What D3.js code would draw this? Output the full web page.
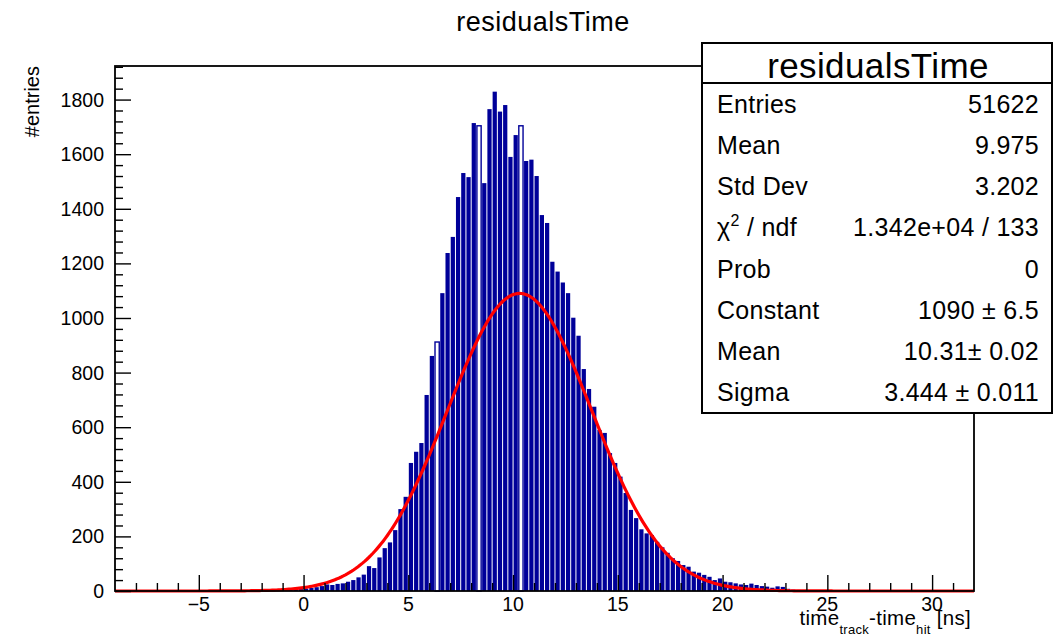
<!DOCTYPE html>
<html lang="en">
<head>
  <meta charset="UTF-8">
  <title>residualsTime</title>
  <script src="https://d3js.org/d3.v7.min.js"></script>
  <style>
    body { margin: 0; background: #fff; font-family: "Liberation Sans", Arial, sans-serif; }
    text { fill: #000; }
    .frame { fill: none; stroke: #000; stroke-width: 1.8; }
    .tick line { stroke: #000; stroke-width: 1.4; }
    .fit { fill: none; stroke: #ff0000; stroke-width: 3.2; }
  </style>
</head>
<body>
  <svg id="chart" width="1055" height="638"></svg>

  <script>
    // histogram: TH1 style binning, counts
    const xMin = -9, xMax = 32;
    const binWidth = 0.25;
    const firstBin = -1.75; // low edge of the first non-empty bin
    const counts = [
      1, 2, 2, 3, 4, 5, 7, 9, 11, 14, 18, 24, 22, 26, 28, 34,
      40, 50, 60, 91, 84, 123, 157, 178, 223, 300, 345, 469, 510, 542, 718, 861,
      912, 1091, 1238, 1297, 1443, 1531, 1516, 1714, 1704, 1494, 1765, 1829, 1756, 1780, 1590, 1670,
      1704, 1575, 1580, 1520, 1377, 1348, 1206, 1170, 1130, 1091, 1001, 935, 813, 740, 675, 590,
      579, 505, 469, 419, 359, 297, 267, 226, 211, 205, 180, 160, 140, 120, 110, 95,
      89, 71, 67, 59, 52, 40, 46, 34, 32, 28, 24, 22, 27, 22, 18, 16,
      12, 17, 15, 8, 5, 4, 3, 2, 2, 1
    ];
    // bins that show up hollow in the original rendering
    const hollowBins = [6.375, 8.375, 10.375];

    // gaus fit
    const fitConstant = 1090, fitMean = 10.31, fitSigma = 3.444;

    const xTicks = [-5, 0, 5, 10, 15, 20, 25, 30];
    const yTicks = [0, 200, 400, 600, 800, 1000, 1200, 1400, 1600, 1800];

    const statsTitle = "residualsTime";
    const statsLabels = ["Entries", "Mean", "Std Dev", "chi2", "Prob", "Constant", "Mean", "Sigma"];
    const statsValues = ["51622", "9.975", "3.202", "1.342e+04 / 133", "0", "1090 \u00b1 6.5", "10.31\u00b1 0.02", "3.444 \u00b1 0.011"];

    const svg = d3.select("#chart");
    const margin = {left: 115, right: 974, top: 66, bottom: 591};

    const x = d3.scaleLinear().domain([xMin, xMax]).range([margin.left, margin.right]);
    const y = d3.scaleLinear().domain([0, 1923]).range([margin.bottom, margin.top]);

    const bins = counts.map((c, i) => {
      const lo = firstBin + i * binWidth;
      return {lo: lo, hi: lo + binWidth, mid: lo + binWidth / 2, c: c};
    });

    // bars
    svg.append("g").selectAll("rect")
      .data(bins)
      .join("rect")
      .attr("x", d => x(d.lo) + 0.5)
      .attr("width", d => x(d.hi) - x(d.lo) - 1)
      .attr("y", d => y(d.c))
      .attr("height", d => y(0) - y(d.c))
      .attr("fill", d => hollowBins.includes(d.mid) ? "#fff" : "#000099")
      .attr("stroke", d => hollowBins.includes(d.mid) ? "#000099" : "none")
      .attr("stroke-width", 1.4);

    // fit curve
    const gaus = v => fitConstant * Math.exp(-0.5 * Math.pow((v - fitMean) / fitSigma, 2));
    const curveX = d3.range(xMin, xMax + 0.001, 0.1);
    svg.append("path")
      .datum(curveX)
      .attr("class", "fit")
      .attr("d", d3.line().x(v => x(v)).y(v => y(gaus(v))));

    // axes, ROOT style ticks pointing into the frame
    const xAxis = d3.axisTop(x).tickValues(xTicks).tickSize(16).tickFormat("");
    svg.append("g").attr("transform", `translate(0,${margin.bottom})`).call(xAxis)
      .call(g => g.select(".domain").remove());
    const xMinor = d3.axisTop(x).tickValues(d3.range(-8, 32, 1).filter(v => v % 5 !== 0)).tickSize(8).tickFormat("");
    svg.append("g").attr("transform", `translate(0,${margin.bottom})`).call(xMinor)
      .call(g => g.select(".domain").remove());

    const yAxis = d3.axisRight(y).tickValues(yTicks).tickSize(16).tickFormat("");
    svg.append("g").attr("transform", `translate(${margin.left},0)`).call(yAxis)
      .call(g => g.select(".domain").remove());
    const yMinor = d3.axisRight(y).tickValues(d3.range(40, 1923, 40).filter(v => v % 200 !== 0)).tickSize(8).tickFormat("");
    svg.append("g").attr("transform", `translate(${margin.left},0)`).call(yMinor)
      .call(g => g.select(".domain").remove());

    svg.append("g").selectAll("text")
      .data(xTicks)
      .join("text")
      .attr("x", d => x(d))
      .attr("y", 611)
      .attr("text-anchor", "middle")
      .style("font-size", "19.5px")
      .text(d => d3.format("d")(d));

    svg.append("g").selectAll("text")
      .data(yTicks)
      .join("text")
      .attr("x", 104)
      .attr("y", d => y(d))
      .attr("dy", "0.36em")
      .attr("text-anchor", "end")
      .style("font-size", "19.5px")
      .text(d => d);

    // frame
    svg.append("rect")
      .attr("class", "frame")
      .attr("x", margin.left).attr("y", margin.top)
      .attr("width", margin.right - margin.left)
      .attr("height", margin.bottom - margin.top);

    // titles
    svg.append("text")
      .attr("x", 543).attr("y", 31)
      .attr("text-anchor", "middle")
      .style("font-size", "27px")
      .style("letter-spacing", "0.5px")
      .text("residualsTime");

    svg.append("text")
      .attr("transform", "translate(39,66) rotate(-90)")
      .attr("text-anchor", "end")
      .style("font-size", "20px")
      .text("#entries");

    const xt = svg.append("text")
      .attr("x", 971).attr("y", 625)
      .attr("text-anchor", "end")
      .style("font-size", "20.5px")
      .style("letter-spacing", "0.3px");
    xt.append("tspan").text("time");
    xt.append("tspan").attr("dy", 9).style("font-size", "13px").text("track");
    xt.append("tspan").attr("dy", -9).text("-time");
    xt.append("tspan").attr("dy", 9).style("font-size", "13px").text("hit");
    xt.append("tspan").attr("dy", -9).text("\u00a0[ns]");

    // stats box
    const box = svg.append("g");
    box.append("rect")
      .attr("x", 702).attr("y", 43).attr("width", 350).attr("height", 370)
      .attr("fill", "#fff").attr("stroke", "#000").attr("stroke-width", 2);
    box.append("line")
      .attr("x1", 702).attr("x2", 1052).attr("y1", 83).attr("y2", 83)
      .attr("stroke", "#000").attr("stroke-width", 1.8);
    box.append("text")
      .attr("x", 878).attr("y", 78)
      .attr("text-anchor", "middle")
      .style("font-size", "35px")
      .style("letter-spacing", "0.4px")
      .text(statsTitle);

    const rowY = d3.scaleLinear().domain([0, statsLabels.length - 1]).range([113, 401]);
    statsLabels.forEach((lab, i) => {
      const t = box.append("text")
        .attr("x", 717).attr("y", rowY(i))
        .style("font-size", "25px")
        .style("letter-spacing", "0.3px");
      if (lab === "chi2") {
        t.append("tspan").text("\u03c7");
        t.append("tspan").attr("dy", -10).style("font-size", "16px").text("2");
        t.append("tspan").attr("dy", 10).text(" / ndf");
      } else {
        t.text(lab);
      }
      box.append("text")
        .attr("x", 1039).attr("y", rowY(i))
        .attr("text-anchor", "end")
        .style("font-size", "25px")
        .style("letter-spacing", "0.3px")
        .text(statsValues[i]);
    });
  </script>
</body>
</html>
